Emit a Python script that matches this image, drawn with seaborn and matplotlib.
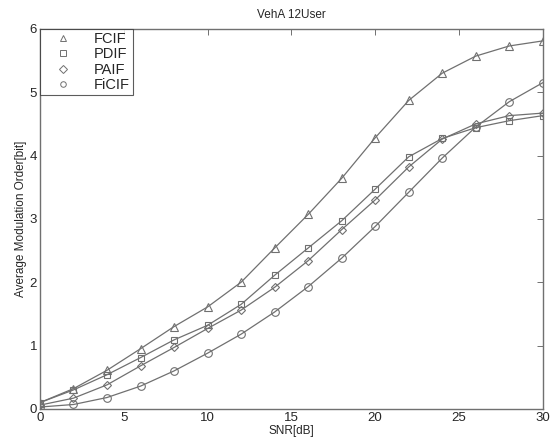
import pandas as pd
import matplotlib
matplotlib.use('Agg')
import matplotlib.pyplot as plt
import seaborn as sns
from matplotlib.lines import Line2D

# --- DANE ---
snr = [0, 2, 4, 6, 8, 10, 12, 14, 16, 18, 20, 22, 24, 26, 28, 30]
fcif = [0.10, 0.32, 0.61, 0.95, 1.30, 1.61, 2.00, 2.54, 3.07, 3.64, 4.28, 4.87, 5.30, 5.57, 5.73, 5.81]
pdif = [0.10, 0.30, 0.54, 0.81, 1.09, 1.32, 1.65, 2.11, 2.54, 2.97, 3.47, 3.98, 4.27, 4.44, 4.55, 4.63]
paif = [0.06, 0.17, 0.38, 0.68, 0.97, 1.27, 1.56, 1.92, 2.34, 2.83, 3.30, 3.82, 4.26, 4.50, 4.63, 4.67]
ficif = [0.03, 0.07, 0.18, 0.36, 0.60, 0.88, 1.18, 1.53, 1.93, 2.38, 2.88, 3.42, 3.96, 4.45, 4.85, 5.15]
series_names = ['FCIF', 'PDIF', 'PAIF', 'FiCIF']
marker_map = {'FCIF': '^', 'PDIF': 's', 'PAIF': 'D', 'FiCIF': 'o'}

df = pd.DataFrame({
    'SNR': snr * 4,
    'val': fcif + pdif + paif + ficif,
    'Metoda': sum([[n] * len(snr) for n in series_names], []),
})

sns.set_theme(style="white")
plt.rcParams['font.family'] = ['Liberation Sans', 'DejaVu Sans']

GRAY = '#707070'
fig = plt.figure(figsize=(5.55, 4.44), dpi=100)
ax = fig.add_axes([0.072, 0.079, 0.906, 0.856])

for name in series_names:
    d = df[df['Metoda'] == name]
    ms = {'FCIF': 5.5, 'PDIF': 4.5, 'PAIF': 4.0, 'FiCIF': 5.5}[name]
    sns.lineplot(data=d, x='SNR', y='val', ax=ax, color=GRAY, linewidth=0.9,
                 marker=marker_map[name], markersize=ms, markerfacecolor='none',
                 markeredgecolor=GRAY, markeredgewidth=0.8, legend=False)

ax.set_xlim(0, 30)
ax.set_ylim(0, 6)
ax.set_xticks([0, 5, 10, 15, 20, 25, 30])
ax.set_yticks([0, 1, 2, 3, 4, 5, 6])
ax.set_xlabel('SNR[dB]', fontsize=8.5, labelpad=1)
ax.set_ylabel('Average Modulation Order[bit]', fontsize=8.5, labelpad=2)
ax.set_title('VehA 12User', fontsize=8.5, pad=8)
ax.tick_params(direction='in', length=4, width=0.7, color=GRAY, labelsize=9.5,
               top=True, right=True, pad=2)
for s in ax.spines.values():
    s.set_color(GRAY)
    s.set_linewidth(1.0)

handles = [Line2D([], [], linestyle='none', marker=marker_map[n], markersize=4,
                  markerfacecolor='none', markeredgecolor=GRAY, markeredgewidth=0.7)
           for n in series_names]
leg = ax.legend(handles, series_names, loc='upper left', fontsize=10.5,
                frameon=True, fancybox=False, borderaxespad=0, handlelength=2.8,
                handletextpad=0.7, labelspacing=0.1, borderpad=0.2)
leg.get_frame().set_edgecolor('#333333')
leg.get_frame().set_linewidth(0.8)

plt.savefig('out.png', dpi=100)
plt.close()
